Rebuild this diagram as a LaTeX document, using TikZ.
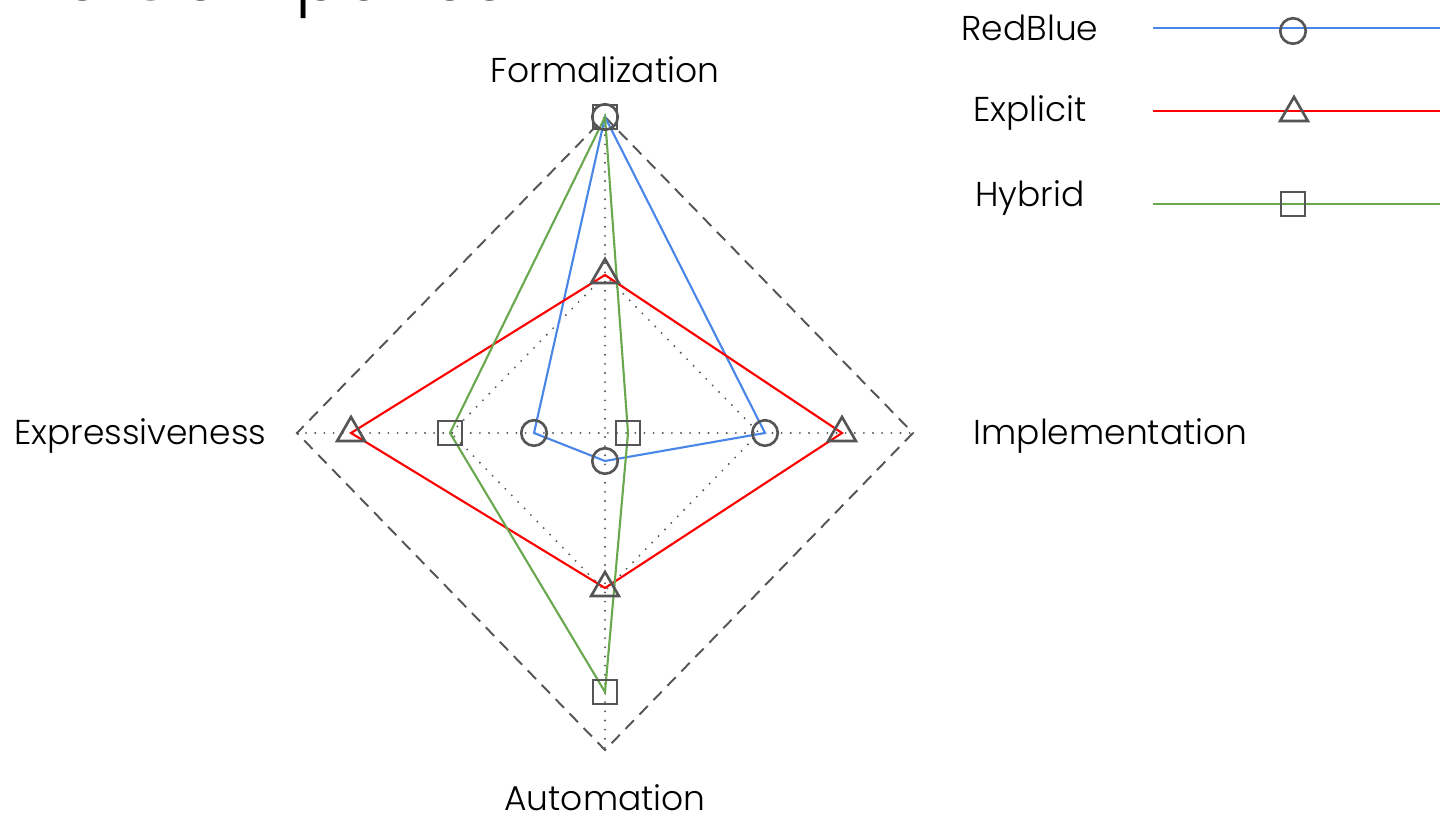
\documentclass[tikz,border=0pt]{standalone}
\usepackage{fontspec}
\setmainfont{Poppins Light}
\usetikzlibrary{shapes.geometric}
\definecolor{rbblue}{HTML}{4A86E8}
\definecolor{exred}{HTML}{FF0000}
\definecolor{hygreen}{HTML}{6AA84F}
\definecolor{axisgray}{HTML}{555555}
\begin{document}
\begin{tikzpicture}[x=0.01cm,y=-0.01cm,
  series/.style={line width=0.6pt},
  mk/.style={draw=axisgray, line width=0.75pt, inner sep=0pt},
  mkcircle/.style={mk, circle, minimum size=0.255cm},
  mksquare/.style={mk, rectangle, minimum size=0.24cm},
  mktri/.style={mk, regular polygon, regular polygon sides=3, minimum size=0.32cm},
  axislabel/.style={font=\fontsize{9.8}{12}\selectfont, inner sep=0pt},
  griddot/.style={axisgray, line width=0.6pt, line cap=round, dash pattern=on 0pt off 2.6pt},
  gridouter/.style={axisgray, line width=0.55pt, dash pattern=on 3.4pt off 2.3pt}]
\useasboundingbox (0,0) rectangle (1445,819);

% title, largely above the page
\node[anchor=base east, font=\fontsize{20}{24}\selectfont, inner sep=0pt] (title) at (558,0.5) {Qualitative Comparison};

% axis ends
\coordinate (top) at (605,117);
\coordinate (right) at (913,433);
\coordinate (bottom) at (605,750);
\coordinate (left) at (297,433);
\coordinate (htop) at (605,275);
\coordinate (hright) at (759,433);
\coordinate (hbottom) at (605,591);
\coordinate (hleft) at (451,433);

% grid
\draw[gridouter] (top) -- (right) -- (bottom) -- (left) -- cycle;
\draw[griddot] (hleft) -- (htop) -- (hright) -- (hbottom) -- cycle;
\draw[griddot] (left) -- (right);
\draw[griddot] (top) -- (bottom);

% axis labels
\node[axislabel] (lform) at (605,70) {Formalization};
\node[axislabel, anchor=west] (limpl) at (973,436) {Implementation};
\node[axislabel, anchor=east] (lexpr) at (267,436) {Expressiveness};
\node[axislabel] (lauto) at (605,798) {Automation};

% data points
\coordinate (rb1) at (605,117);
\coordinate (rb2) at (765,433);
\coordinate (rb3) at (605,461);
\coordinate (rb4) at (534,433);
\coordinate (ex1) at (605,275);
\coordinate (ex2) at (842,433);
\coordinate (ex3) at (605,588);
\coordinate (ex4) at (351,433);
\coordinate (hy1) at (605,117);
\coordinate (hy2) at (628,433);
\coordinate (hy3) at (605,692);
\coordinate (hy4) at (450,433);

% series polygons
\draw[series, rbblue] (rb1) -- (rb2) -- (rb3) -- (rb4) -- cycle;
\draw[series, exred] (ex1) -- (ex2) -- (ex3) -- (ex4) -- cycle;
\draw[series, hygreen] (hy1) -- (hy2) -- (hy3) -- (hy4) -- cycle;

% markers
\foreach \p in {rb1,rb2,rb3,rb4} \node[mkcircle] (m\p) at (\p) {};
\foreach \p in {ex1,ex2,ex3,ex4} \node[mktri] (m\p) at (\p) {};
\foreach \p in {hy1,hy2,hy3,hy4} \node[mksquare] (m\p) at (\p) {};

% legend
\node[axislabel] (kred) at (1030,28) {RedBlue};
\node[axislabel] (kexp) at (1030,113) {Explicit};
\node[axislabel] (khyb) at (1030,198) {Hybrid};
\coordinate (k1a) at (1153,28);
\coordinate (k1b) at (1440,28);
\coordinate (k2a) at (1153,111);
\coordinate (k2b) at (1440,111);
\coordinate (k3a) at (1153,204);
\coordinate (k3b) at (1440,204);
\draw[series, rbblue] (k1a) -- (k1b);
\draw[series, exred] (k2a) -- (k2b);
\draw[series, hygreen] (k3a) -- (k3b);
\node[mkcircle] (km1) at (1293,31) {};
\node[mktri] (km2) at (1294,113) {};
\node[mksquare] (km3) at (1293,204) {};
\end{tikzpicture}
\end{document}
